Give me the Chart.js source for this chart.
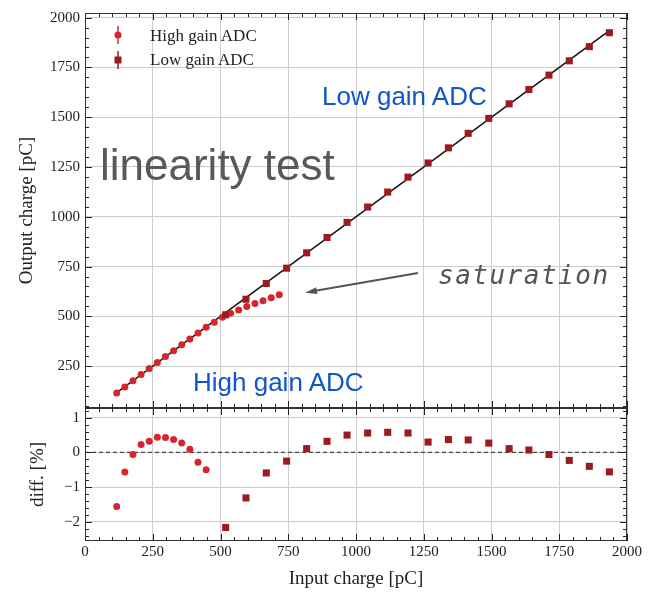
<!DOCTYPE html>
<html>
<head>
<meta charset="utf-8">
<script src="https://cdn.jsdelivr.net/npm/chart.js@4.4.0/dist/chart.umd.min.js"></script>
<style>
  body { margin: 0; background: #fff; }
  #wrap { position: relative; width: 648px; height: 592px; overflow: hidden; }
  #wrap canvas { position: absolute; left: 0; }
  #chart_top { top: 0; }
  #chart_diff { top: 400px; }
  .note { position: absolute; white-space: nowrap; line-height: 1; z-index: 2; }
  .sans { font-family: "Liberation Sans", Arial, sans-serif; }
  .blue { color: #1155cc; font-size: 26px; }
  .leg { position: absolute; left: 150px; font-family: "Liberation Serif", serif; font-size: 17px; color: #222; line-height: 1; z-index: 2; }
  svg { position: absolute; z-index: 2; }
</style>
</head>
<body>
<div id="wrap">
  <canvas id="chart_top" width="648" height="410"></canvas>
  <canvas id="chart_diff" width="648" height="192"></canvas>

  <!-- legend -->
  <svg style="left:111px;top:25px" width="14" height="20">
    <line x1="7" y1="1" x2="7" y2="19" stroke="#d7262b" stroke-width="1.5"/>
    <circle cx="7" cy="10" r="3.5" fill="#d7262b"/>
  </svg>
  <div class="leg" style="top:26.5px">High gain ADC</div>
  <svg style="left:111px;top:49.5px" width="14" height="20">
    <line x1="7" y1="1" x2="7" y2="19" stroke="#9c1b1f" stroke-width="1.5"/>
    <rect x="3.5" y="6.5" width="7" height="7" fill="#9c1b1f"/>
  </svg>
  <div class="leg" style="top:51px">Low gain ADC</div>

  <!-- annotations -->
  <div class="note sans" style="left:100px;top:143px;font-size:44px;color:#595959">linearity test</div>
  <div class="note sans blue" style="left:322px;top:83px">Low gain ADC</div>
  <div class="note sans blue" style="left:193px;top:369px">High gain ADC</div>
  <div class="note" style="left:438px;top:262px;font-family:'DejaVu Sans Mono',monospace;font-style:italic;font-size:26px;letter-spacing:1.5px;color:#555">saturation</div>
  <svg style="left:0;top:0" width="648" height="592">
    <line x1="418" y1="273" x2="314" y2="291" stroke="#555" stroke-width="2"/>
    <polygon points="305,292.7 317.4,294.1 316.2,287.2" fill="#555"/>
  </svg>
</div>

<script>
// data
const highX = [117, 147, 177, 207, 237, 267, 297, 327, 357, 387, 417, 447, 477, 507, 537, 567, 597, 627, 657, 687, 717];
const highY = [115, 146, 177, 208, 238, 268, 298, 328, 358, 387, 416, 445, 470, 495, 516, 532, 549, 564, 579, 594, 609];
const lowX = [519, 594, 669, 744, 818, 893, 967, 1043, 1117, 1192, 1266, 1341, 1414, 1490, 1565, 1638, 1712, 1787, 1861, 1935];
const lowY = [508, 586, 665, 742, 819, 896, 972, 1049, 1124, 1199, 1270, 1346, 1419, 1494, 1567, 1639, 1711, 1783, 1854, 1924];
const fitX = [117, 1935];
const fitY = [117, 1935];
// diff [%] (high gain only shown up to 447 pC)
const highDiff = [-1.56, -0.56, -0.06, 0.23, 0.32, 0.44, 0.43, 0.37, 0.27, 0.09, -0.28, -0.50];
const lowDiff = [-2.16, -1.31, -0.59, -0.25, 0.11, 0.32, 0.50, 0.56, 0.58, 0.56, 0.30, 0.37, 0.36, 0.27, 0.11, 0.07, -0.06, -0.23, -0.40, -0.56];
const zeroX = [0, 2000];
const zeroY = [0, 0];

const xTicks = [0, 250, 500, 750, 1000, 1250, 1500, 1750, 2000];
const yTopTicks = [250, 500, 750, 1000, 1250, 1500, 1750, 2000];
const yDiffTicks = [-2, -1, 0, 1];

const HIGH = "#d7262b";
const LOW = "#9c1b1f";
const SERIF = "'Liberation Serif', 'Times New Roman', serif";

const pts = (xs, ys) => xs.map((x, i) => ({ x: x, y: ys[i] }));
const fmt = (v) => (v < 0 ? "\u2212" + Math.abs(v) : String(v));

// fixed axis box sizes, and no extra label padding
const fixSize = (w, h) => (s) => {
  if (w !== null) s.width = w;
  if (h !== null) s.height = h;
  s.paddingTop = 0;
  s.paddingBottom = 0;
  s.paddingLeft = 0;
  s.paddingRight = 0;
};

// frame + inward major/minor ticks on all four sides
const frameTicks = {
  id: "frameTicks",
  afterDraw(chart, args, o) {
    const { ctx, chartArea: a, scales } = chart;
    ctx.save();
    ctx.strokeStyle = "#222";
    ctx.lineWidth = 1;
    ctx.beginPath();
    const doAxis = (scale, minor, major, horiz) => {
      const i0 = Math.ceil(scale.min / minor - 1e-9);
      const i1 = Math.floor(scale.max / minor + 1e-9);
      for (let i = i0; i <= i1; i++) {
        const v = i * minor;
        const r = v / major;
        const len = Math.abs(r - Math.round(r)) < 1e-6 ? 7 : 4;
        const p = Math.round(scale.getPixelForValue(v)) + 0.5;
        if (horiz) {
          ctx.moveTo(p, a.bottom); ctx.lineTo(p, a.bottom - len);
          ctx.moveTo(p, a.top); ctx.lineTo(p, a.top + len);
        } else {
          ctx.moveTo(a.left, p); ctx.lineTo(a.left + len, p);
          ctx.moveTo(a.right, p); ctx.lineTo(a.right - len, p);
        }
      }
    };
    doAxis(scales.x, 50, 250, true);
    doAxis(scales.y, o.yMinor, o.yMajor, false);
    ctx.stroke();
    ctx.strokeStyle = "#333";
    ctx.strokeRect(a.left + 0.5, a.top + 0.5, a.width - 1, a.height - 1);
    ctx.restore();
  },
};

const gridColor = "#cccccc";

// upper panel
new Chart(document.getElementById("chart_top"), {
  type: "scatter",
  data: {
    datasets: [
      {
        label: "Low gain ADC",
        data: pts(lowX, lowY),
        pointStyle: "rect",
        pointRadius: 5,
        backgroundColor: LOW,
        borderColor: LOW,
        borderWidth: 0,
        order: 1,
      },
      {
        label: "High gain ADC",
        data: pts(highX, highY),
        pointStyle: "circle",
        pointRadius: 3.5,
        backgroundColor: HIGH,
        borderColor: HIGH,
        borderWidth: 0,
        order: 2,
      },
      {
        label: "fit",
        data: pts(fitX, fitY),
        showLine: true,
        pointRadius: 0,
        borderColor: "#111",
        borderWidth: 1.5,
        order: 3,
      },
    ],
  },
  options: {
    responsive: false,
    animation: false,
    events: [],
    layout: { autoPadding: false, padding: { top: 13, right: 21, bottom: 0, left: 12 } },
    plugins: {
      legend: { display: false },
      tooltip: { enabled: false },
      frameTicks: { yMinor: 50, yMajor: 250 },
    },
    scales: {
      x: {
        type: "linear",
        min: 0,
        max: 2000,
        afterBuildTicks: (s) => { s.ticks = xTicks.map((v) => ({ value: v })); },
        afterFit: fixSize(null, 2),
        ticks: { display: false },
        grid: { color: gridColor, drawTicks: false },
        border: { display: false },
      },
      y: {
        type: "linear",
        min: 40,
        max: 2023,
        afterBuildTicks: (s) => { s.ticks = yTopTicks.map((v) => ({ value: v })); },
        afterFit: fixSize(73, null),
        ticks: { padding: 5, color: "#222", font: { family: SERIF, size: 15 }, callback: fmt },
        grid: { color: gridColor, drawTicks: false },
        border: { display: false },
        title: {
          display: true,
          text: "Output charge [pC]",
          color: "#222",
          font: { family: SERIF, size: 19 },
          padding: { top: 4, bottom: 0 },
        },
      },
    },
  },
  plugins: [frameTicks],
});

// lower panel: relative difference
new Chart(document.getElementById("chart_diff"), {
  type: "scatter",
  data: {
    datasets: [
      {
        label: "Low gain ADC",
        data: pts(lowX, lowDiff),
        pointStyle: "rect",
        pointRadius: 5,
        backgroundColor: LOW,
        borderColor: LOW,
        borderWidth: 0,
        order: 1,
      },
      {
        label: "High gain ADC",
        data: pts(highX.slice(0, highDiff.length), highDiff),
        pointStyle: "circle",
        pointRadius: 3.5,
        backgroundColor: HIGH,
        borderColor: HIGH,
        borderWidth: 0,
        order: 2,
      },
      {
        label: "zero",
        data: pts(zeroX, zeroY),
        showLine: true,
        pointRadius: 0,
        borderColor: "#444",
        borderWidth: 1.3,
        borderDash: [4, 3],
        order: 3,
      },
    ],
  },
  options: {
    responsive: false,
    animation: false,
    events: [],
    layout: { autoPadding: false, padding: { top: 8, right: 21, bottom: 0, left: 24 } },
    plugins: {
      legend: { display: false },
      tooltip: { enabled: false },
      frameTicks: { yMinor: 0.2, yMajor: 1 },
    },
    scales: {
      x: {
        type: "linear",
        min: 0,
        max: 2000,
        afterBuildTicks: (s) => { s.ticks = xTicks.map((v) => ({ value: v })); },
        afterFit: fixSize(null, 51),
        ticks: { padding: 2, maxRotation: 0, color: "#222", font: { family: SERIF, size: 15 }, callback: fmt },
        grid: { color: gridColor, drawTicks: false },
        border: { display: false },
        title: {
          display: true,
          text: "Input charge [pC]",
          color: "#222",
          font: { family: SERIF, size: 19 },
          padding: { top: 0, bottom: 2 },
        },
      },
      y: {
        type: "linear",
        min: -2.55,
        max: 1.28,
        afterBuildTicks: (s) => { s.ticks = yDiffTicks.map((v) => ({ value: v })); },
        afterFit: fixSize(61, null),
        ticks: { padding: 5, color: "#222", font: { family: SERIF, size: 15 }, callback: fmt },
        grid: { color: gridColor, drawTicks: false },
        border: { display: false },
        title: {
          display: true,
          text: "diff. [%]",
          color: "#222",
          font: { family: SERIF, size: 19 },
          padding: { top: 3, bottom: 0 },
        },
      },
    },
  },
  plugins: [frameTicks],
});
</script>
</body>
</html>
